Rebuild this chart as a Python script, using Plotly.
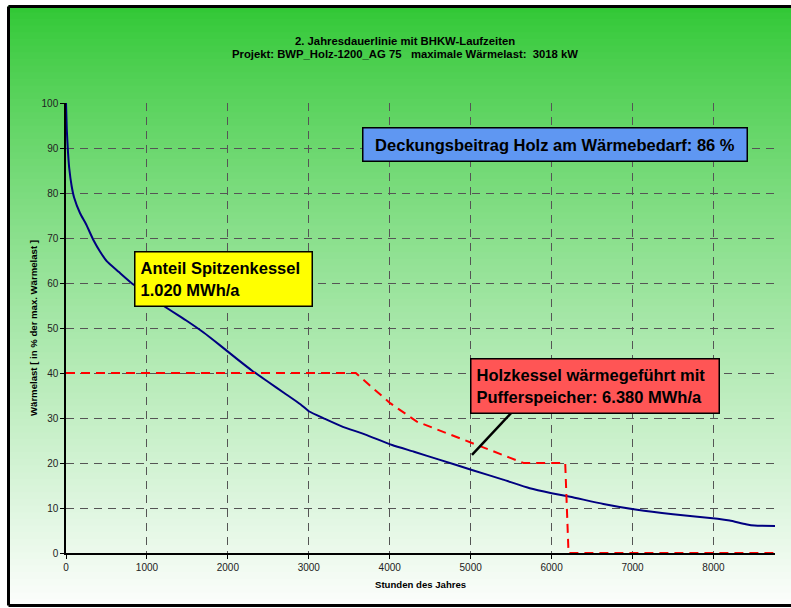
import plotly.graph_objects as go

# ---------------- data ----------------
hours_load = [0, 10, 25, 40, 70, 100, 174, 250, 340, 420, 506, 650, 837, 1000, 1200,
              1500, 1700, 1900, 2100, 2300, 2500, 2700, 2900, 3000, 3200, 3400, 3700,
              4030, 4300, 4600, 5025, 5400, 5730, 6000, 6230, 6640, 7056, 7500, 8051,
              8200, 8400, 8507, 8760]
load_pct = [100, 94, 89, 85.5, 81.5, 79, 75.5, 73, 69.5, 67, 64.8, 62.5, 59.6, 57.8, 55,
            51.5, 49, 46.2, 43.3, 40.5, 38, 35.5, 33, 31.5, 29.8, 28.2, 26.3,
            24, 22.5, 20.8, 18.4, 16.3, 14.4, 13.3, 12.5, 10.9, 9.6, 8.6, 7.6,
            7.2, 6.4, 6.1, 6.0]

hours_wood = [0, 3580, 3800, 4005, 4335, 4911, 5158, 5652, 5720, 6168, 6209, 8760]
wood_pct = [40, 40, 36.5, 33.3, 29.2, 25.1, 23.5, 20, 20, 20, 0, 0]

x_ticks = [0, 1000, 2000, 3000, 4000, 5000, 6000, 7000, 8000]
y_ticks = [0, 10, 20, 30, 40, 50, 60, 70, 80, 90, 100]

title_l1 = "2. Jahresdauerlinie mit BHKW-Laufzeiten"
title_l2 = "Projekt: BWP_Holz-1200_AG 75\u00a0\u00a0\u00a0maximale Wärmelast:\u00a0\u00a03018 kW"
txt_blue = "Deckungsbeitrag Holz am Wärmebedarf: 86 %"
txt_yellow = "Anteil Spitzenkessel<br>1.020 MWh/a"
txt_red = "Holzkessel wärmegeführt mit<br>Pufferspeicher: 6.380 MWh/a"

FONT = "Liberation Sans, Arial, sans-serif"

# ---------------- figure ----------------
fig = go.Figure()
fig.add_trace(go.Scatter(x=hours_load, y=load_pct, mode="lines", line_shape="spline",
                         line=dict(color="#000080", width=2, smoothing=0.5), cliponaxis=False,
                         hoverinfo="skip", showlegend=False))
fig.add_trace(go.Scatter(x=hours_wood, y=wood_pct, mode="lines",
                         line=dict(color="#FF0000", width=2, dash="9px,6px"),
                         cliponaxis=False, hoverinfo="skip", showlegend=False))

# gradient background (paper) in bands
L, R, T, B = 66, 775, 103, 553
W, H = R - L, B - T
def px_x(p): return (p - L) / W
def px_y(p): return (B - p) / H

shapes = []
top_px, bot_px = 6, 606
n = 90
c0 = (48, 200, 52)
c1 = (252, 254, 252)
for i in range(n):
    y0p = top_px + (bot_px - top_px) * i / n
    y1p = top_px + (bot_px - top_px) * (i + 1) / n
    t = (i + 0.5) / n
    t2 = min(1.0, t ** 0.85)
    col = tuple(int(c0[k] + (c1[k] - c0[k]) * t2) for k in range(3))
    shapes.append(dict(type="rect", xref="paper", yref="paper", layer="below",
                       x0=px_x(8), x1=px_x(791), y0=px_y(y1p) - 0.001, y1=px_y(y0p) + 0.001,
                       fillcolor="rgb(%d,%d,%d)" % col, line=dict(width=0)))
# frame (left, top, bottom edges)
for (xa, ya, xb, yb) in [(8.5, 6.5, 791, 6.5), (8.5, 6.5, 8.5, 605.5), (8.5, 605.5, 791, 605.5)]:
    shapes.append(dict(type="line", xref="paper", yref="paper", layer="below",
                       x0=px_x(xa), y0=px_y(ya), x1=px_x(xb), y1=px_y(yb),
                       line=dict(color="black", width=3)))
# connector line for red box
shapes.append(dict(type="line", xref="x", yref="y", x0=5510, y0=31.3, x1=5016, y1=21.8,
                   line=dict(color="black", width=2.5), layer="above"))

BOX_FONT = dict(family=FONT, size=16.5, color="black")
annotations = [
    dict(text="<b>%s</b>" % title_l1, xref="paper", yref="paper",
         x=px_x(405), y=px_y(40.5), xanchor="center", yanchor="middle", showarrow=False,
         font=dict(family=FONT, size=11.3, color="black")),
    dict(text="<b>%s</b>" % title_l2, xref="paper", yref="paper",
         x=px_x(405), y=px_y(54), xanchor="center", yanchor="middle", showarrow=False,
         font=dict(family=FONT, size=11.3, color="black")),
    dict(text="<b>%s</b>" % txt_blue, xref="paper", yref="paper",
         x=px_x(555), y=px_y(144.5), xanchor="center", yanchor="middle", showarrow=False,
         font=BOX_FONT, bgcolor="#5F97F2",
         bordercolor="black", borderwidth=1.5, borderpad=5, width=373, height=22),
    dict(text="<b>%s</b>" % txt_yellow, xref="paper", yref="paper",
         x=px_x(223.5), y=px_y(278.5), xanchor="center", yanchor="middle", showarrow=False,
         font=BOX_FONT, bgcolor="#FFFF00", align="left",
         bordercolor="black", borderwidth=1.5, borderpad=5, width=166, height=43),
    dict(text="<b>%s</b>" % txt_red, xref="paper", yref="paper",
         x=px_x(595), y=px_y(386), xanchor="center", yanchor="middle", showarrow=False,
         font=BOX_FONT, bgcolor="#FF5555", align="left",
         bordercolor="black", borderwidth=1.5, borderpad=5, width=237, height=43),
    dict(text="<b>Wärmelast [ in % der max. Wärmelast ]</b>", xref="paper", yref="paper",
         x=px_x(33), y=0.5, xanchor="center", yanchor="middle", showarrow=False,
         textangle=-90, font=dict(family=FONT, size=9.6, color="black")),
    dict(text="<b>Stunden des Jahres</b>", xref="paper", yref="paper",
         x=0.5, y=px_y(584), xanchor="center", yanchor="middle", showarrow=False,
         font=dict(family=FONT, size=9.6, color="black")),
]

grid = dict(showgrid=True, gridcolor="#555555", gridwidth=1, griddash="8px,6px")
fig.update_layout(
    width=791, height=608,
    margin=dict(l=L, r=791 - R, t=T, b=608 - B, pad=0),
    paper_bgcolor="white", plot_bgcolor="white",
    font=dict(family=FONT, size=10, color="black"),
    shapes=shapes, annotations=annotations,
    xaxis=dict(range=[0, 8760], tickvals=x_ticks, ticks="outside", ticklen=4,
               tickcolor="black", showline=True, linecolor="black", linewidth=1.5,
               zeroline=False, tickfont=dict(family=FONT, size=10, color="#222222"),
               **grid),
    yaxis=dict(range=[0, 100], tickvals=y_ticks, ticks="outside", ticklen=4,
               tickcolor="black", showline=True, linecolor="black", linewidth=1.5,
               zeroline=False, tickfont=dict(family=FONT, size=10, color="#222222"),
               **grid),
)
fig.write_html("out.html", config={"displayModeBar": False},
               post_script="document.documentElement.style.overflow='hidden';"
                           "document.body.style.overflow='hidden';"
                           "document.body.style.margin='0';")
